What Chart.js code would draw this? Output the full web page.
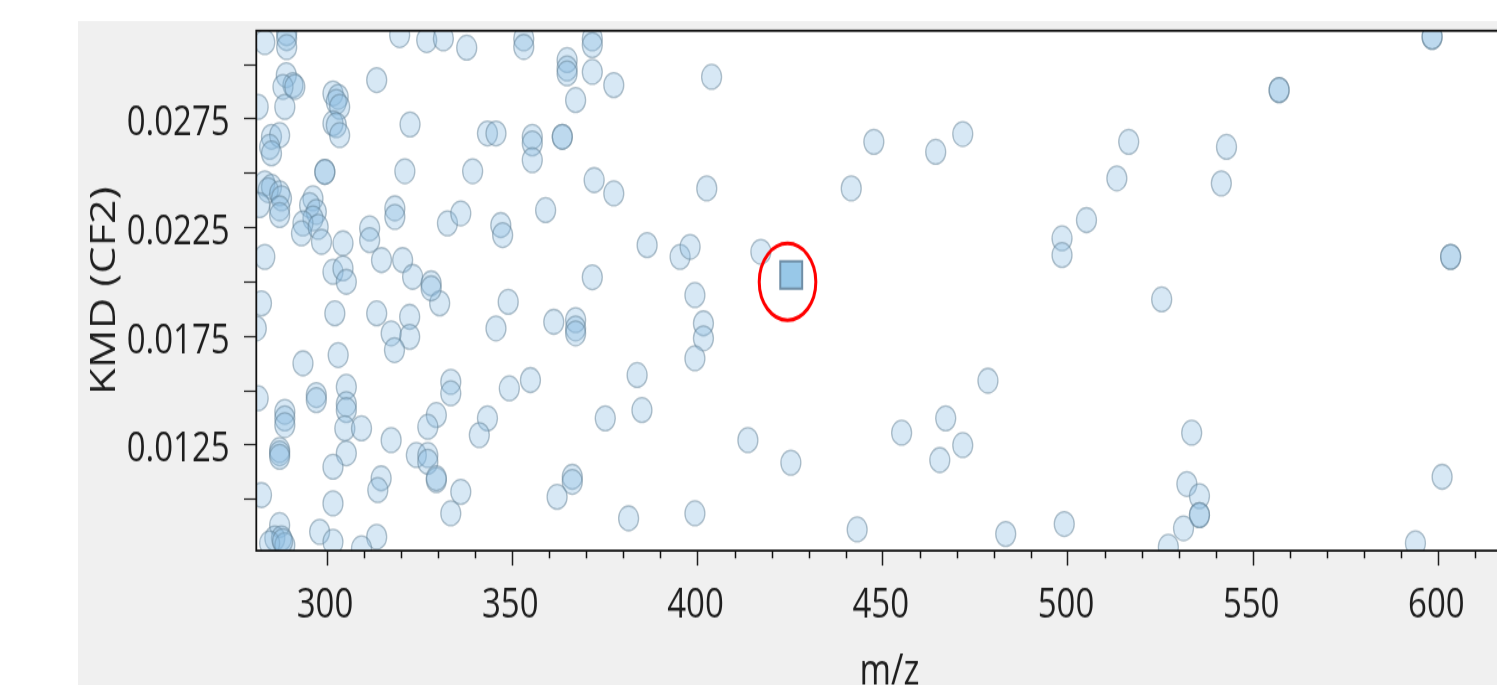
<!DOCTYPE html>
<html><head><meta charset="utf-8">
<script src="https://cdn.jsdelivr.net/npm/chart.js@4.4.0/dist/chart.umd.min.js"></script>
<style>
html,body{margin:0;padding:0;overflow:hidden;background:#fff;width:1497px;height:685px;}
#wrap{position:absolute;left:0;top:0;width:1540px;height:580px;transform:scaleY(1.24);transform-origin:0 0;}
canvas{display:block;}
</style></head><body>
<div id="wrap"><canvas id="c" width="1540" height="580"></canvas></div>
<script>
// ---- data (m/z, KMD(CF2)) ----
const mz = [
283.2,289.1,289.1,289.1,319.6,326.9,331.4,337.7,289.0,290.8,288.1,291.3,281.4,288.6,313.4,301.6,303.0,302.5,303.4,301.6,
302.5,303.4,285.0,287.2,284.5,285.0,322.4,343.3,299.4,299.4,321.0,339.3,283.2,285.0,284.1,287.2,287.7,287.2,287.2,281.8,
296.2,295.3,297.1,296.2,293.5,293.1,297.6,298.5,318.3,318.3,332.5,336.1,346.9,347.4,311.5,311.5,304.3,283.2,314.7,320.4,
301.6,304.3,305.2,323.1,328.1,282.3,280.9,302.1,313.4,322.3,322.3,317.3,318.2,330.4,328.1,345.6,348.9,293.5,303.0,281.4,
297.1,297.1,305.2,305.2,305.2,288.6,288.6,288.6,304.8,309.3,305.2,287.2,287.2,287.2,301.6,317.3,333.4,333.4,329.5,327.2,
343.3,341.1,324.1,327.2,327.2,329.5,329.5,314.6,313.7,336.1,333.4,282.3,301.6,298.0,301.6,313.4,309.3,287.2,285.9,287.7,
284.5,288.6,288.0,353.1,353.1,371.6,371.6,364.8,364.8,364.8,371.6,377.4,367.1,403.8,345.6,355.4,355.4,355.4,363.5,363.5,
372.1,377.4,402.5,359.0,386.4,395.3,398.0,371.6,399.3,361.2,367.1,367.1,367.1,401.6,401.6,399.3,349.2,354.9,383.7,375.1,
385.0,366.2,366.2,362.1,381.4,399.3,417.1,413.6,425.2,441.5,447.6,443.1,455.1,464.3,465.4,467.0,471.6,471.6,478.4,483.2,
498.4,498.4,499.0,505.0,513.2,516.4,525.3,533.4,532.1,535.5,535.5,535.5,531.2,527.1,541.4,542.8,557.0,557.0,593.8,598.3,
598.3,601.0,603.3,603.3
];
const kmd = [
0.03104,0.03145,0.03122,0.03081,0.03136,0.03113,0.03121,0.03078,0.02952,0.02906,0.02898,0.02898,0.02806,0.02806,0.02929,0.02868,0.02852,0.02829,0.02806,0.02730,
0.02722,0.02676,0.02668,0.02676,0.02622,0.02592,0.02725,0.02684,0.02507,0.02507,0.02510,0.02510,0.02454,0.02438,0.02423,0.02408,0.02385,0.02339,0.02308,0.02354,
0.02385,0.02354,0.02323,0.02293,0.02270,0.02224,0.02254,0.02185,0.02339,0.02300,0.02270,0.02316,0.02262,0.02216,0.02247,0.02193,0.02178,0.02116,0.02101,0.02101,
0.02047,0.02063,0.02001,0.02024,0.01994,0.01902,0.01787,0.01856,0.01856,0.01840,0.01748,0.01764,0.01687,0.01902,0.01971,0.01787,0.01909,0.01626,0.01664,0.01465,
0.01480,0.01457,0.01518,0.01439,0.01411,0.01403,0.01373,0.01342,0.01327,0.01327,0.01212,0.01227,0.01212,0.01196,0.01150,0.01273,0.01541,0.01488,0.01388,0.01334,
0.01373,0.01296,0.01204,0.01204,0.01173,0.01089,0.01098,0.01097,0.01043,0.01035,0.00936,0.01020,0.00982,0.00851,0.00805,0.00828,0.00775,0.00882,0.00821,0.00821,
0.00798,0.00790,0.00808,0.03121,0.03082,0.03121,0.03090,0.03021,0.02983,0.02960,0.02967,0.02906,0.02837,0.02944,0.02684,0.02668,0.02638,0.02561,0.02668,0.02668,
0.02469,0.02408,0.02431,0.02331,0.02170,0.02116,0.02162,0.02022,0.01940,0.01817,0.01825,0.01787,0.01764,0.01810,0.01741,0.01649,0.01511,0.01549,0.01572,0.01373,
0.01411,0.01104,0.01081,0.01012,0.00913,0.00936,0.02139,0.01273,0.01169,0.02431,0.02645,0.00862,0.01307,0.02599,0.01181,0.01373,0.02681,0.01250,0.01546,0.00841,
0.02201,0.02124,0.00887,0.02285,0.02477,0.02645,0.01920,0.01307,0.01071,0.01015,0.00928,0.00928,0.00867,0.00782,0.02454,0.02622,0.02883,0.02883,0.00798,0.03128,
0.03128,0.01104,0.02116,0.02116
];
// highlighted (selected) feature shown as a square
const selectedMz = [425.3];
const selectedKmd = [0.02032];
// red ring annotation centre (data coordinates)
const ringMz = 424.3;
const ringKmd = 0.02001;

// axes
const xMin = 280.9, xMax = 622.7;
const yMin = 0.00764, yMax = 0.03156;
const xTicks = [300,350,400,450,500,550,600];
const xTickLabels = ['300','350','400','450','500','550','600'];
const xMinorTicks = [310,320,330,340,360,370,380,390,410,420,430,440,460,470,480,490,510,520,530,540,560,570,580,590,610,620];
const yTicks = [0.01,0.0125,0.015,0.0175,0.02,0.0225,0.025,0.0275,0.03];
const yTickLabels = ['','0.0125','','0.0175','','0.0225','','0.0275',''];
const xTitle = 'm/z';
const yTitle = 'KMD (CF2)';

const FONT = "'Open Sans', 'Noto Sans', sans-serif";
const INK = '#1e1e1e';

const decor = {
  id: 'decor',
  beforeDraw(chart) {
    const ctx = chart.ctx, a = chart.chartArea;
    ctx.save();
    ctx.fillStyle = '#ffffff';
    ctx.fillRect(0, 0, chart.width, chart.height);
    ctx.fillStyle = '#f0f0f0';
    ctx.fillRect(78, 17, chart.width - 78, chart.height - 17);
    ctx.fillStyle = '#ffffff';
    ctx.fillRect(a.left, a.top, a.right - a.left, a.bottom - a.top);
    ctx.restore();
  },
  afterDatasetsDraw(chart) {
    const ctx = chart.ctx, a = chart.chartArea;
    const xs = chart.scales.x, ys = chart.scales.y;
    ctx.save();
    // frame
    ctx.strokeStyle = '#111';
    ctx.lineWidth = 1.8;
    ctx.strokeRect(a.left, a.top, a.right - a.left, a.bottom - a.top);
    // minor x ticks
    ctx.lineWidth = 1.5;
    ctx.beginPath();
    xMinorTicks.forEach(v => {
      const px = Math.round(xs.getPixelForValue(v)) + 0.5;
      ctx.moveTo(px, a.bottom);
      ctx.lineTo(px, a.bottom + 6.2);
    });
    ctx.stroke();
    // red ring
    const cx = xs.getPixelForValue(ringMz), cy = ys.getPixelForValue(ringKmd);
    ctx.beginPath();
    ctx.ellipse(cx, cy, 28.3, 30.9, 0, 0, Math.PI * 2);
    ctx.strokeStyle = '#ff0000';
    ctx.lineWidth = 3;
    ctx.stroke();
    ctx.restore();
  }
};

new Chart(document.getElementById('c'), {
  type: 'scatter',
  data: {
    datasets: [
      {
        data: selectedMz.map((x, i) => ({x, y: selectedKmd[i]})),
        pointStyle: 'rect',
        pointRadius: 15.5,
        pointHoverRadius: 15.5,
        backgroundColor: 'rgb(152,200,232)',
        borderColor: '#6f8ea6',
        borderWidth: 2,
        clip: 0,
        order: 0
      },
      {
        data: mz.map((x, i) => ({x, y: kmd[i]})),
        pointStyle: 'circle',
        pointRadius: 10,
        pointHoverRadius: 10,
        backgroundColor: 'rgba(140,190,225,0.35)',
        borderColor: 'rgba(100,130,150,0.5)',
        borderWidth: 1.3,
        clip: 0,
        order: 1
      }
    ]
  },
  options: {
    responsive: false,
    animation: false,
    events: [],
    layout: { padding: { left: 78, top: 24.8, right: 13, bottom: 0 } },
    plugins: { legend: { display: false }, tooltip: { enabled: false } },
    scales: {
      x: {
        type: 'linear',
        min: xMin, max: xMax,
        afterBuildTicks: s => { s.ticks = xTicks.map(v => ({value: v})); },
        afterFit: s => { s.height = 580 - 444.1; s.paddingLeft = 0; s.paddingRight = 0; },
        grid: { drawOnChartArea: false, drawTicks: true, tickLength: 12, tickColor: INK, tickWidth: 1.5 },
        border: { display: false },
        ticks: {
          autoSkip: false, maxRotation: 0, padding: 13, labelOffset: -2,
          color: INK, font: { family: FONT, size: 33 },
          callback: (v, i) => xTickLabels[i]
        },
        title: { display: true, text: xTitle, color: INK, font: { family: FONT, size: 34, lineHeight: 1.2 }, padding: { top: 0, bottom: 17 } }
      },
      y: {
        type: 'linear',
        min: yMin, max: yMax,
        afterBuildTicks: s => { s.ticks = yTicks.map(v => ({value: v})); },
        afterFit: s => { s.width = 256.3 - 78; s.paddingTop = 0; s.paddingBottom = 0; },
        grid: { drawOnChartArea: false, drawTicks: true, tickLength: 12.3, tickColor: INK, tickWidth: 1.2 },
        border: { display: false },
        ticks: {
          autoSkip: false, padding: 14.3, labelOffset: 4,
          color: INK, font: { family: FONT, size: 33 },
          callback: (v, i) => yTickLabels[i]
        },
        title: { display: true, text: yTitle, color: INK, font: { family: FONT, size: 35, lineHeight: 1.2 }, padding: { top: 6, bottom: 0 } }
      }
    }
  },
  plugins: [decor]
});
</script>
</body></html>
